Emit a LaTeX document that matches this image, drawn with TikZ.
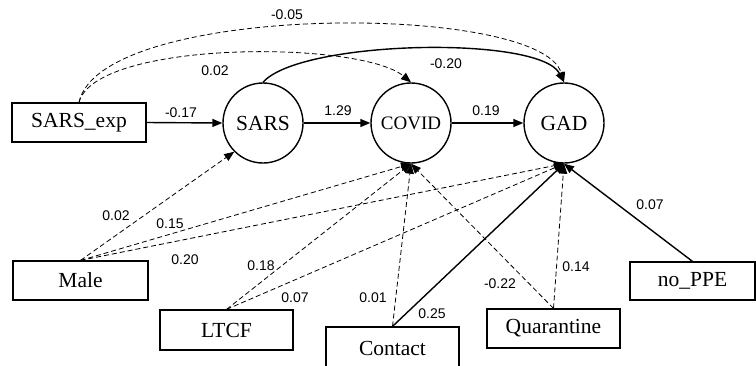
\documentclass[tikz,border=0pt]{standalone}
\usepackage{fontspec}
\setmainfont{Liberation Serif}
\newfontfamily\labfont{Liberation Sans}
\usetikzlibrary{arrows.meta}
\begin{document}
\begin{tikzpicture}[x=1pt,y=-1pt,
  box/.style={draw,line width=1.2pt,rectangle,inner sep=0pt,font=\fontsize{21.5}{23}\selectfont},
  latent/.style={draw,line width=1.4pt,circle,inner sep=0pt,minimum size=80pt,font=\fontsize{21.5}{23}\selectfont},
  tip/.style={-{Triangle[length=10pt,width=8pt]}},
  solidedge/.style={tip,line width=1.4pt},
  dashedge/.style={tip,line width=0.8pt,dash pattern=on 5pt off 3pt},
  lab/.style={font=\labfont\fontsize{14}{15}\selectfont,inner sep=0pt}]
\useasboundingbox (0,0) rectangle (756,365);
% observed variables
\node[box,minimum width=134pt,minimum height=39pt] (sarsexp) at (79,122.5) {SARS\_exp};
\node[box,minimum width=135pt,minimum height=39pt] (male) at (80.5,280.5) {Male};
\node[box,minimum width=133pt,minimum height=40pt] (ltcf) at (226.5,330) {LTCF};
\node[box,minimum width=133pt,minimum height=42pt] (contact) at (392.5,348) {Contact};
\node[box,minimum width=133pt,minimum height=39pt] (quar) at (553.5,328.5) {Quarantine};
\node[box,minimum width=125pt,minimum height=38pt] (noppe) at (692.5,281) {no\_PPE};
% latent variables
\node[latent] (sars) at (263,123) {SARS};
\node[latent,font=\fontsize{19}{21}\selectfont] (covid) at (411,123) {COVID};
\node[latent] (gad) at (564,123) {GAD};
% main path
\draw[solidedge] (sarsexp.east) -- (sars.west);
\draw[solidedge] (sars.east) -- (covid.west);
\draw[solidedge] (covid.east) -- (gad.west);
% top curves
\draw[dashedge] (sarsexp.north) .. controls (100,2) and (540,2) .. (gad.north);
\draw[dashedge] (sarsexp.north) .. controls (95,40) and (360,40) .. (covid.north);
\draw[solidedge] (sars.north) .. controls (300,40) and (540,35) .. (gad.north);
% covariates
\draw[dashedge] (male.north) -- (sars.225);
\draw[dashedge] (male.north) -- (covid.south);
\draw[dashedge] (male.north) -- (gad.south);
\draw[dashedge] (ltcf.north) -- (covid.south);
\draw[dashedge] (ltcf.north) -- (gad.south);
\draw[dashedge] (contact.north) -- (covid.south);
\draw[solidedge] (contact.north) -- (gad.south);
\draw[dashedge] (quar.north) -- (covid.south);
\draw[dashedge] (quar.north) -- (gad.south);
\draw[solidedge] (noppe.north) -- (gad.south);
% labels
\node[lab] (l1) at (287,15) {-0.05};
\node[lab] (l2) at (215,71) {0.02};
\node[lab] (l3) at (446,64) {-0.20};
\node[lab] (l4) at (181,113) {-0.17};
\node[lab] (l5) at (338,111) {1.29};
\node[lab] (l6) at (486,111) {0.19};
\node[lab] (l7) at (116,216) {0.02};
\node[lab] (l8) at (170,224) {0.15};
\node[lab] (l9) at (185,260) {0.20};
\node[lab] (l10) at (261,266) {0.18};
\node[lab] (l11) at (295,298) {0.07};
\node[lab] (l12) at (373,298) {0.01};
\node[lab] (l13) at (432,314) {0.25};
\node[lab] (l14) at (500,284) {-0.22};
\node[lab] (l15) at (576,267) {0.14};
\node[lab] (l16) at (650,205) {0.07};
\end{tikzpicture}
\end{document}
